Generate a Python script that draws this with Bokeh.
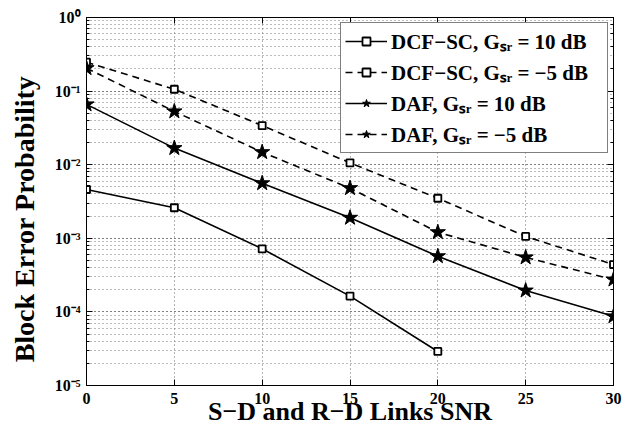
from bokeh.plotting import figure
from bokeh.models import (LogAxis, LinearAxis, Legend, LegendItem, FixedTicker,
                          CustomJSTickFormatter, Range1d)
from bokeh.embed import file_html
from bokeh.resources import INLINE

# ---- data ----
snr_dcf_10 = [0, 5, 10, 15, 20]
dcf_10 = [4.6e-3, 2.6e-3, 7.2e-4, 1.64e-4, 2.9e-5]
snr = [0, 5, 10, 15, 20, 25, 30]
dcf_m5 = [0.247, 0.106, 0.034, 0.0106, 3.5e-3, 1.06e-3, 4.4e-4]
daf_10 = [0.066, 0.0168, 5.6e-3, 1.9e-3, 5.7e-4, 1.95e-4, 8.7e-5]
daf_m5 = [0.205, 0.053, 0.0148, 4.8e-3, 1.21e-3, 5.5e-4, 2.75e-4]

x_ticks = [0, 5, 10, 15, 20, 25, 30]
y_tick_labels = ["10\u207b\u2075", "10\u207b\u2074", "10\u207b\u00b3",
                 "10\u207b\u00b2", "10\u207b\u00b9", "10\u2070"]
legend_labels = ["DCF\u2212SC, G\u209b\u1d63 = 10 dB",
                 "DCF\u2212SC, G\u209b\u1d63 = \u22125 dB",
                 "DAF, G\u209b\u1d63 = 10 dB",
                 "DAF, G\u209b\u1d63 = \u22125 dB"]
x_label = "S\u2212D and R\u2212D Links SNR"
y_label = "Block Error Probability"

FONT = "Liberation Serif"
W, H = 630, 428
BL, BR, BT, BB = 86, 17, 17, 43

p = figure(width=W, height=H, y_axis_type="log",
           x_range=Range1d(0, 30), y_range=Range1d(1e-5, 1),
           output_backend="svg", toolbar_location=None,
           min_border_left=BL, min_border_right=BR, min_border_top=BT,
           min_border_bottom=BB)
p.background_fill_color = "white"
p.border_fill_color = "white"
p.outline_line_color = "black"
p.outline_line_width = 1

yfmt = CustomJSTickFormatter(args=dict(labels=y_tick_labels), code="""
const e = Math.round(Math.log10(tick));
return labels[e + 5];
""")

def style_axis(ax, show_labels):
    ax.major_tick_in = 6
    ax.major_tick_out = 0
    ax.minor_tick_in = 3
    ax.minor_tick_out = 0
    ax.axis_line_color = "black"
    ax.major_tick_line_color = "black"
    ax.minor_tick_line_color = "black"
    ax.major_label_text_font = FONT
    ax.major_label_text_font_style = "bold"
    ax.major_label_text_font_size = "16px"
    ax.major_label_text_color = "black"
    if not show_labels:
        ax.major_label_text_font_size = "1px"
        ax.major_label_text_alpha = 0
        ax.major_label_standoff = 0

xa = p.xaxis[0]
xa.ticker = FixedTicker(ticks=x_ticks)
style_axis(xa, True)
xa.major_label_standoff = 7
xa.axis_label = x_label
xa.axis_label_text_font = FONT
xa.axis_label_text_font_style = "bold"
xa.axis_label_text_font_size = "26px"
xa.axis_label_text_color = "black"
xa.axis_label_standoff = -10

ya = p.yaxis[0]
ya.formatter = yfmt
style_axis(ya, True)
ya.major_label_standoff = 6
ya.axis_label = y_label + "\u00a0" * 5
ya.axis_label_text_font = FONT
ya.axis_label_text_font_style = "bold"
ya.axis_label_text_font_size = "28px"
ya.axis_label_text_color = "black"
ya.axis_label_standoff = 12

ra = LogAxis()
style_axis(ra, False)
p.add_layout(ra, "right")
ta = LinearAxis(ticker=FixedTicker(ticks=x_ticks))
style_axis(ta, False)
p.add_layout(ta, "above")

p.xgrid.ticker = FixedTicker(ticks=x_ticks)
p.xgrid.grid_line_color = "#666666"
p.xgrid.grid_line_dash = "1 3"
p.ygrid.grid_line_color = "#666666"
p.ygrid.grid_line_dash = "1 3"
p.ygrid.minor_grid_line_color = "#777777"
p.ygrid.minor_grid_line_dash = "1 3"

LW = 1.6
items = []
series = [
    (snr_dcf_10, dcf_10, "solid", "square"),
    (snr, dcf_m5, "7 5", "square"),
    (snr, daf_10, "solid", "star"),
    (snr, daf_m5, "7 5", "star"),
]
for (xs, ys, dash, mk), lab in zip(series, legend_labels):
    lr = p.line(xs, ys, line_color="black", line_width=LW, line_dash=dash)
    if mk == "square":
        sr = p.scatter(xs, ys, marker="square", size=7, line_color="black",
                       fill_color="white", line_width=1.8)
    else:
        sr = p.scatter(xs, ys, marker="star", size=16, line_color="black",
                       fill_color="black", line_width=1)
    items.append(LegendItem(label=lab, renderers=[lr, sr]))

leg = Legend(items=items, location="top_right")
leg.label_text_font = FONT
leg.label_text_font_style = "bold"
leg.label_text_font_size = "21px"
leg.label_text_color = "black"
leg.border_line_color = "black"
leg.border_line_width = 1
leg.background_fill_alpha = 1
leg.glyph_width = 42
leg.glyph_height = 20
leg.label_standoff = 4
leg.label_width = 212
leg.label_height = 26
leg.spacing = 3
leg.padding = 4
leg.margin = 5
p.add_layout(leg)

open("out.html", "w").write(file_html(p, INLINE))
